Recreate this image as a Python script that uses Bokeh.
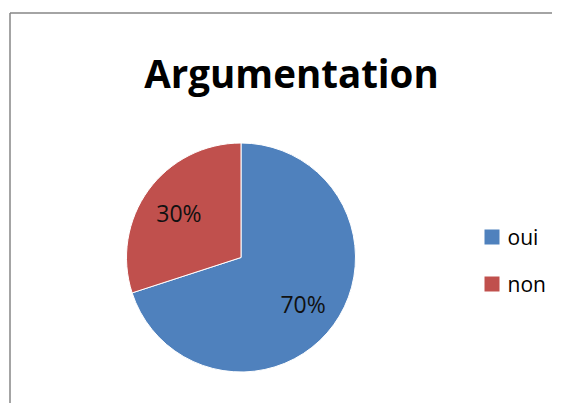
import numpy as np
from bokeh.plotting import figure
from bokeh.models import Range1d
from bokeh.core.properties import value
from bokeh.embed import file_html
from bokeh.resources import INLINE

# ---- data ----
title_text = "Argumentation"
categories = ["oui", "non"]
shares = [70, 30]
colors = ["#4F81BD", "#C0504D"]

W, H = 552, 403
p = figure(width=W, height=H, output_backend="svg", toolbar_location=None,
           x_range=Range1d(0, W), y_range=Range1d(0, H), min_border=0)
p.axis.visible = False
p.grid.visible = False
p.outline_line_color = None
p.background_fill_color = "white"
p.border_fill_color = "white"

def px(X):
    return X

def py(Y):
    return H - Y

# chart frame (left and top edges visible in reference)
p.line([px(9.5), px(9.5)], [py(419), py(12.5)], line_color="#868686", line_width=1.5)
p.line([px(9.5), px(568)], [py(12.5), py(12.5)], line_color="#868686", line_width=1.5)

# title
p.text(x=[px(291)], y=[py(72)], text=[title_text], text_font=value("Open Sans"),
       text_font_style="bold", text_font_size="38.5px", text_color="black",
       text_align="center", text_baseline="alphabetic")

# pie
cx, cy, r = px(240.5), py(257), 114.5
vals = np.array(shares, dtype=float)
frac = vals / vals.sum()
cum_end = np.cumsum(frac)
cum_start = cum_end - frac
start = np.deg2rad(90 - cum_end * 360)
end = np.deg2rad(90 - cum_start * 360)
p.wedge(x=cx, y=cy, radius=r, start_angle=start, end_angle=end,
        fill_color=colors, line_color="white", line_width=1)

mid = (start + end) / 2
lr = 0.67 * r
labels = [f"{int(round(f * 100))}%" for f in frac]
p.text(x=cx + lr * np.cos(mid), y=cy + lr * np.sin(mid) - 1, text=labels,
       text_font=value("Open Sans"), text_font_size="23px", text_color="#111111",
       text_align="center", text_baseline="middle")

# legend
ly = [py(236.5) - i * 47 for i in range(len(categories))]
p.rect(x=[px(491.5)] * len(categories), y=ly, width=15, height=15,
       fill_color=colors, line_color=None)
p.text(x=[px(507)] * len(categories), y=ly, text=categories,
       text_font=value("Open Sans"), text_font_size="21px", text_color="black",
       text_align="left", text_baseline="middle")

open("out.html", "w").write(file_html(p, INLINE))
